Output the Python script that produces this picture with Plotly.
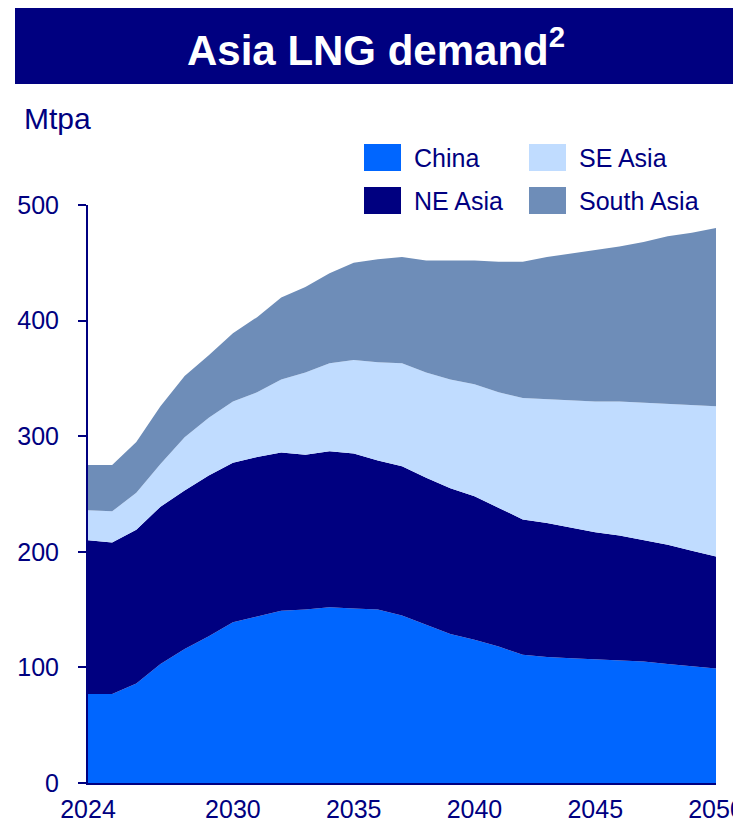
import plotly.graph_objects as go

# data (Mtpa)
years = list(range(2024, 2051))
china = [77, 77, 86, 103, 116, 127, 139, 144, 149, 150, 152, 151, 150, 145,
         137, 129, 124, 118, 111, 109, 108, 107, 106, 105, 103, 101, 99]
ne_asia = [133, 131, 133, 136, 137, 139, 138, 138, 137, 134, 135, 134, 129, 129,
           127, 126, 124, 120, 117, 116, 113, 110, 108, 105, 103, 100, 97]
se_asia = [26, 27, 32, 37, 46, 50, 53, 56, 63, 71, 76, 81, 85, 89,
           91, 94, 97, 100, 105, 107, 110, 113, 116, 119, 122, 126, 130]
south_asia = [39, 40, 44, 50, 53, 54, 59, 65, 71, 74, 78, 84, 89, 92,
              97, 103, 107, 113, 118, 123, 127, 131, 134, 139, 145, 149, 154]

names = ['China', 'NE Asia', 'SE Asia', 'South Asia']
colors = ['#0066FF', '#000080', '#C0DCFF', '#6E8DB8']
series = [china, ne_asia, se_asia, south_asia]

NAVY = '#000080'
FONT = 'Arial, Liberation Sans, sans-serif'

W, H = 733, 825
L, R, T, B = 88, 17, 205, 42
PW, PH = W - L - R, H - T - B


def px(x, y):
    # pixel position -> paper coords
    return (x - L) / PW, (H - B - y) / PH


fig = go.Figure()
for name, col, vals in zip(names, colors, series):
    fig.add_trace(go.Scatter(
        x=years, y=vals, name=name, mode='lines', stackgroup='one',
        line=dict(width=0, color=col), fillcolor=col, showlegend=False))

shapes = []
annotations = []

# title banner
x0, y0 = px(15, 8)
x1, y1 = px(740, 84)
shapes.append(dict(type='rect', xref='paper', yref='paper', x0=x0, y0=y1, x1=x1, y1=y0,
                   fillcolor=NAVY, line=dict(width=0), layer='above'))
tx, ty = px(376, 47)
annotations.append(dict(text='<b>Asia LNG demand<sup>2</sup></b>', xref='paper', yref='paper',
                        x=tx, y=ty, showarrow=False, xanchor='center', yanchor='middle',
                        font=dict(family=FONT, size=42, color='white')))

# unit label
ux, uy = px(22, 118)
annotations.append(dict(text='Mtpa', xref='paper', yref='paper', x=ux, y=uy,
                        showarrow=False, xanchor='left', yanchor='middle',
                        font=dict(family=FONT, size=30, color=NAVY)))

# manual legend (2 columns)
legend_pos = {'China': (364, 144), 'SE Asia': (529, 144),
              'NE Asia': (364, 187), 'South Asia': (529, 187)}
for name, col in zip(names, colors):
    lx, ly = legend_pos[name]
    a0, b0 = px(lx, ly)
    a1, b1 = px(lx + 37, ly + 27)
    shapes.append(dict(type='rect', xref='paper', yref='paper', x0=a0, y0=b1, x1=a1, y1=b0,
                       fillcolor=col, line=dict(width=0)))
    nx, ny = px(lx + 48, ly + 14)
    annotations.append(dict(text=name, xref='paper', yref='paper', x=nx, y=ny,
                            showarrow=False, xanchor='left', yanchor='middle',
                            font=dict(family=FONT, size=25, color=NAVY)))

fig.update_layout(
    width=W, height=H,
    margin=dict(l=L, r=R, t=T, b=B, pad=0),
    paper_bgcolor='white', plot_bgcolor='white',
    font=dict(family=FONT, size=25, color=NAVY),
    shapes=shapes, annotations=annotations,
    showlegend=False,
)
fig.update_xaxes(
    range=[2024, 2050], tickvals=[2024, 2030, 2035, 2040, 2045, 2050],
    showgrid=False, zeroline=False, showline=True, linecolor=NAVY, linewidth=2,
    ticks='', ticklabelstandoff=3, ticklabeloverflow='allow', automargin=False,
    tickfont=dict(size=25, color=NAVY))
fig.update_yaxes(
    range=[0, 500], tickvals=[0, 100, 200, 300, 400, 500],
    showgrid=False, zeroline=False, showline=True, linecolor=NAVY, linewidth=2,
    ticks='outside', ticklen=8, tickwidth=2, tickcolor=NAVY, ticklabelstandoff=14,
    automargin=False, tickfont=dict(size=25, color=NAVY))

# drop the default page margin so the figure sits at the window origin
fig.write_html('out.html', config={'displayModeBar': False},
               post_script="document.body.style.margin='0';")
